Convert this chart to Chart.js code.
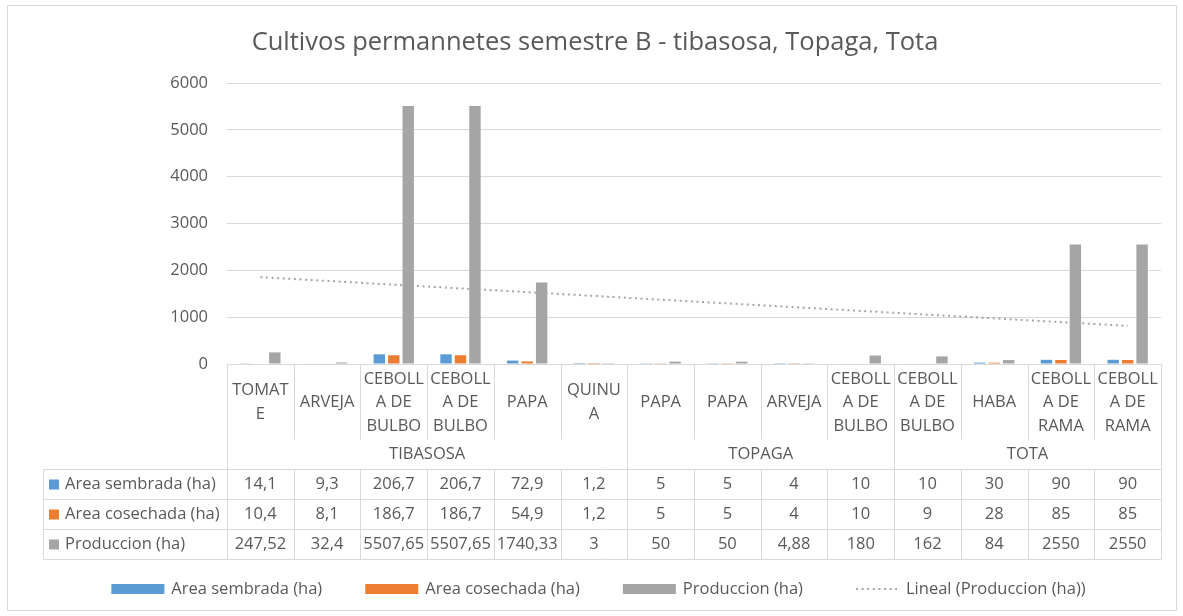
<!DOCTYPE html>
<html>
<head>
<meta charset="utf-8">
<script src="https://cdn.jsdelivr.net/npm/chart.js@4.4.1/dist/chart.umd.min.js"></script>
<style>
  html, body { margin: 0; padding: 0; background: #fff; }
  canvas { display: block; }
</style>
</head>
<body>
<canvas id="grafico" width="1183" height="616"></canvas>
<script>
// categorias tal como salen cortadas en la tabla de Excel
const categorias = [
  ['TOMAT', 'E'], ['ARVEJA'], ['CEBOLL', 'A DE', 'BULBO'], ['CEBOLL', 'A DE', 'BULBO'], ['PAPA'], ['QUINU', 'A'],
  ['PAPA'], ['PAPA'], ['ARVEJA'], ['CEBOLL', 'A DE', 'BULBO'],
  ['CEBOLL', 'A DE', 'BULBO'], ['HABA'], ['CEBOLL', 'A DE', 'RAMA'], ['CEBOLL', 'A DE', 'RAMA']
];
const municipios = ['TIBASOSA', 'TOPAGA', 'TOTA'];
const cultivosPorMunicipio = [6, 4, 4];

const areaSembrada = [14.1, 9.3, 206.7, 206.7, 72.9, 1.2, 5, 5, 4, 10, 10, 30, 90, 90];
const areaCosechada = [10.4, 8.1, 186.7, 186.7, 54.9, 1.2, 5, 5, 4, 10, 9, 28, 85, 85];
const produccion = [247.52, 32.4, 5507.65, 5507.65, 1740.33, 3, 50, 50, 4.88, 180, 162, 84, 2550, 2550];
// tendencia lineal: solo inicio y fin
const tendencia = [1854, null, null, null, null, null, null, null, null, null, null, null, null, 814];

const ticksY = [0, 1000, 2000, 3000, 4000, 5000, 6000];

const gris = '#595959';
const linea = '#d9d9d9';
const fuente = '"Open Sans", sans-serif';
const tam = 16.5;

// numero con coma decimal como en la tabla
function fmt(v) {
  return String(v).replace('.', ',');
}

// tabla de datos + titulo + leyenda + marco
const tablaPlugin = {
  id: 'tabla',
  beforeDraw(chart) {
    const ctx = chart.ctx;
    ctx.save();
    ctx.strokeStyle = linea;
    ctx.lineWidth = 1;
    ctx.strokeRect(7.5, 5.5, 1169, 605);
    ctx.restore();
  },
  afterDraw(chart) {
    const ctx = chart.ctx;
    const x = chart.scales.x;
    const area = chart.chartArea;
    const ancho = x.getPixelForValue(1) - x.getPixelForValue(0);
    const colIzq = i => x.getPixelForValue(i) - ancho / 2;
    const arriba = Math.round(area.bottom) + 0.5;
    const finCat = arriba + 75;
    const finMun = arriba + 105;
    const altoFila = 30;
    const abajo = finMun + altoFila * 3;
    const izqTabla = 43.5;
    const der = Math.round(area.right) + 0.5;
    const izq = Math.round(area.left) + 0.5;

    ctx.save();
    ctx.strokeStyle = linea;
    ctx.lineWidth = 1;
    ctx.beginPath();
    // horizontales
    ctx.moveTo(izq, arriba); ctx.lineTo(der, arriba);
    for (let r = 0; r <= 3; r++) {
      ctx.moveTo(izqTabla, finMun + r * altoFila);
      ctx.lineTo(der, finMun + r * altoFila);
    }
    // verticales
    ctx.moveTo(izq, arriba); ctx.lineTo(izq, abajo);
    ctx.moveTo(der, arriba); ctx.lineTo(der, abajo);
    ctx.moveTo(izqTabla, finMun); ctx.lineTo(izqTabla, abajo);
    let limites = [];
    let acum = 0;
    cultivosPorMunicipio.forEach(n => { acum += n; limites.push(acum); });
    for (let k = 1; k < categorias.length; k++) {
      const px = Math.round(colIzq(k)) + 0.5;
      if (limites.includes(k)) {
        ctx.moveTo(px, arriba); ctx.lineTo(px, abajo);
      } else {
        ctx.moveTo(px, arriba); ctx.lineTo(px, finCat);
        ctx.moveTo(px, finMun); ctx.lineTo(px, abajo);
      }
    }
    ctx.stroke();

    ctx.fillStyle = gris;
    ctx.font = tam + 'px ' + fuente;
    ctx.textAlign = 'center';
    ctx.textBaseline = 'middle';
    // nombres de cultivos
    categorias.forEach((lineas, i) => {
      const cx = x.getPixelForValue(i);
      lineas.forEach((t, j) => {
        ctx.fillText(t, cx, arriba + 38 + (j - (lineas.length - 1) / 2) * 23.5);
      });
    });
    // municipios
    let ini = 0;
    municipios.forEach((m, g) => {
      const fin = ini + cultivosPorMunicipio[g];
      ctx.fillText(m, (colIzq(ini) + colIzq(fin)) / 2, finCat + 15);
      ini = fin;
    });
    // filas de valores
    const series = chart.data.datasets.filter(d => d.type !== 'line');
    series.forEach((ds, r) => {
      const cy = finMun + r * altoFila + altoFila / 2;
      ds.data.forEach((v, i) => {
        ctx.fillStyle = gris;
        ctx.textAlign = 'center';
        ctx.fillText(fmt(v), x.getPixelForValue(i), cy);
      });
      ctx.fillStyle = ds.backgroundColor;
      ctx.fillRect(49, cy - 5, 10, 10);
      ctx.fillStyle = gris;
      ctx.textAlign = 'left';
      ctx.fillText(ds.label, 65, cy);
    });

    // titulo
    ctx.font = '25.5px ' + fuente;
    ctx.textAlign = 'center';
    ctx.fillText(chart.options.plugins.tituloTexto, 595, 43);

    // leyenda
    ctx.font = tam + 'px ' + fuente;
    ctx.textAlign = 'left';
    const muestra = 53, sep = 7, entre = 43, ly = 589;
    const items = chart.data.datasets.map(d => ({ d, w: muestra + sep + ctx.measureText(d.label).width }));
    const total = items.reduce((s, it) => s + it.w, 0) + entre * (items.length - 1);
    let lx = 598.5 - total / 2;
    items.forEach(it => {
      const d = it.d;
      if (d.type === 'line') {
        ctx.save();
        ctx.strokeStyle = d.borderColor;
        ctx.lineWidth = d.borderWidth;
        ctx.setLineDash(d.borderDash);
        ctx.beginPath();
        ctx.moveTo(lx + 10, ly);
        ctx.lineTo(lx + muestra - 2, ly);
        ctx.stroke();
        ctx.restore();
      } else {
        ctx.fillStyle = d.backgroundColor;
        ctx.fillRect(lx, ly - 5, muestra, 10);
      }
      ctx.fillStyle = gris;
      ctx.fillText(d.label, lx + muestra + sep, ly);
      lx += it.w + entre;
    });
    ctx.restore();
  }
};

new Chart(document.getElementById('grafico'), {
  type: 'bar',
  data: {
    labels: categorias.map(c => c.join(' ')),
    datasets: [
      { label: 'Area sembrada (ha)', data: areaSembrada, backgroundColor: '#5b9bd5' },
      { label: 'Area cosechada (ha)', data: areaCosechada, backgroundColor: '#ed7d31' },
      { label: 'Produccion (ha)', data: produccion, backgroundColor: '#a5a5a5' },
      {
        type: 'line', label: 'Lineal (Produccion (ha))', data: tendencia,
        borderColor: '#a5a5a5', borderWidth: 2, borderDash: [2, 3.6],
        pointRadius: 0, spanGaps: true, fill: false
      }
    ]
  },
  options: {
    responsive: false,
    animation: false,
    devicePixelRatio: 1,
    categoryPercentage: 0.65,
    barPercentage: 0.79,
    layout: { padding: { top: 83, bottom: 252, right: 22, left: 0 } },
    plugins: {
      legend: { display: false },
      tooltip: { enabled: false },
      tituloTexto: 'Cultivos permannetes semestre B - tibasosa, Topaga, Tota'
    },
    scales: {
      x: { display: false },
      y: {
        min: ticksY[0],
        max: ticksY[ticksY.length - 1],
        ticks: {
          stepSize: ticksY[1] - ticksY[0], color: gris, padding: 19,
          font: { family: fuente, size: tam },
          callback: v => String(v)
        },
        grid: { color: linea, drawTicks: false },
        border: { display: false },
        afterFit(scale) { scale.width = 227; }
      }
    }
  },
  plugins: [tablaPlugin]
});
</script>
</body>
</html>
